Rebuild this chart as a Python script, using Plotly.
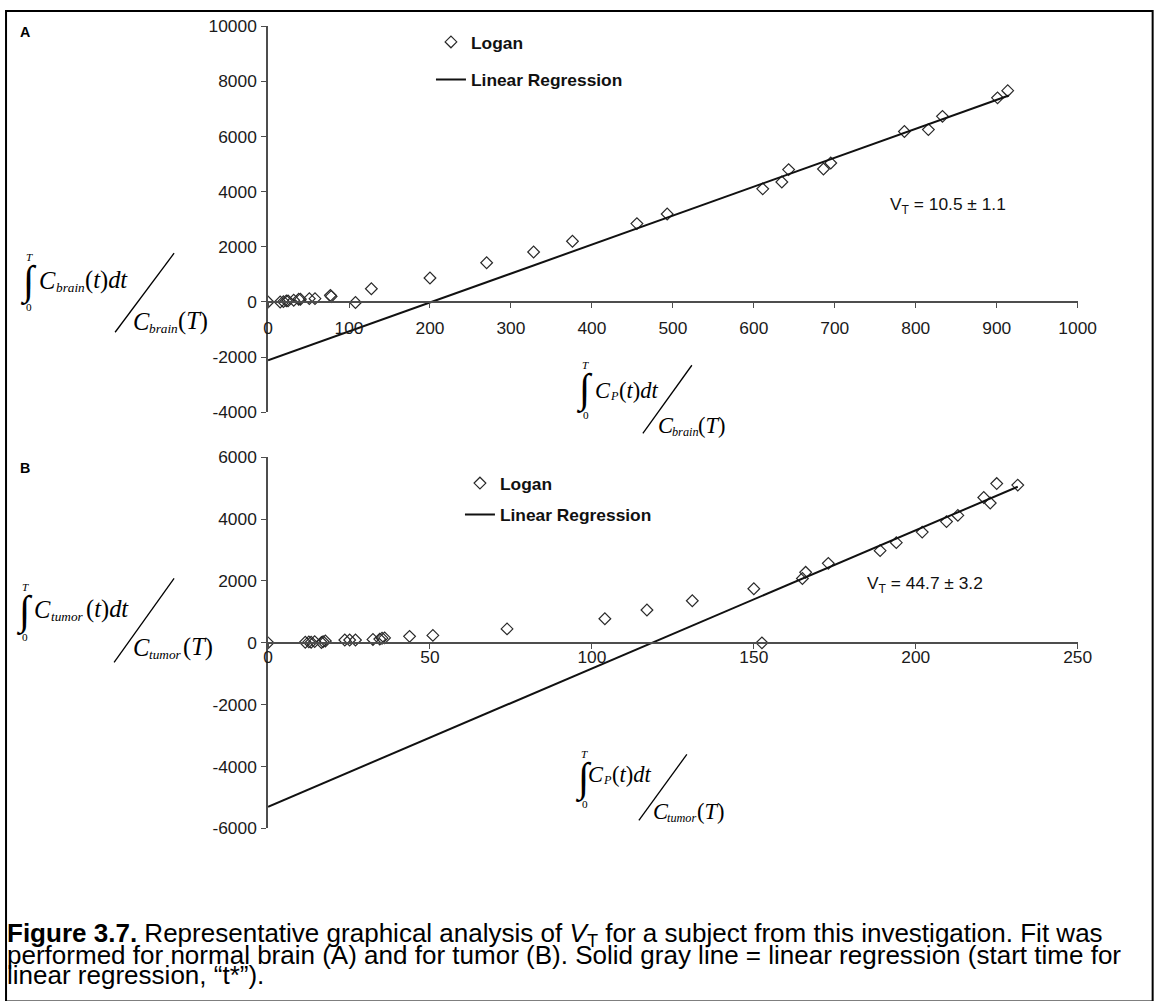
import plotly.graph_objects as go

# target picture size, and the viewer's observed page transform (page = S * (fig + OFF))
W, H = 1158, 1001
S, OFF = 0.98, 8
FW, FH = round(W / S - OFF), round(H / S - OFF)

# ---------------- data ----------------
# Panel A: normal brain (Logan plot)
brain_x = [0, 15, 19, 22.6, 24.7, 31.7, 37.9, 40, 51, 58, 77, 78, 108, 127.6, 200,
           270, 328, 376, 455.6, 493, 611, 634.6, 643, 686, 695, 786, 815.6, 833, 901, 913.6]
brain_y = [0, 0, 10, 40, 40, 60, 100, 100, 120, 120, 240, 200, -20, 480, 870,
           1420, 1810, 2200, 2840, 3190, 4100, 4350, 4800, 4820, 5040, 6180, 6250, 6730, 7400, 7660]
brain_slope, brain_intercept = 10.5, -2120
brain_fit_x = [0, 915]

# Panel B: tumor (Logan plot)
tumor_x = [0, 11.5, 12.6, 13.3, 14.4, 16.5, 17, 17.7, 23.7, 25.2, 27, 32.4, 34.5, 35.2, 36,
           43.7, 50.9, 73.8, 104, 117, 131, 150, 152.5, 165, 166, 173, 189, 194, 202,
           209.5, 213, 221, 223, 225, 231.5]
tumor_y = [0, 20, 30, 20, 40, 10, 40, 60, 90, 90, 90, 110, 120, 150, 160,
           210, 240, 450, 780, 1060, 1360, 1750, 0, 2080, 2280, 2570, 2980, 3240, 3580,
           3920, 4120, 4700, 4520, 5150, 5100]
tumor_slope, tumor_intercept = 44.7, -5300
tumor_fit_x = [0, 231.5]

xA_range, yA_range = [0, 1000], [-4000, 10000]
xB_range, yB_range = [0, 250], [-6000, 6000]
xA_ticks = list(range(0, 1001, 100))
yA_ticks = list(range(-4000, 10001, 2000))
xB_ticks = list(range(0, 251, 50))
yB_ticks = list(range(-6000, 6001, 2000))

# ---------------- helpers ----------------
def px(x):
    return (x / S - OFF) / FW

def py(y):
    return 1 - (y / S - OFF) / FH

def fs(size):
    return round(size / S, 2)

x_dom = [px(271), px(1081)]
yA_dom = [py(410), py(24)]
yB_dom = [py(826), py(455)]

def zero_pos(dom, rng):
    return dom[0] + (0 - rng[0]) / (rng[1] - rng[0]) * (dom[1] - dom[0])

AX = '#4d4d4d'
SERIF = 'Liberation Serif, Times New Roman, serif'
SANS = 'Liberation Sans, Arial, sans-serif'
TICKFONT = dict(family=SANS, size=fs(17), color='#1a1a1a')

fig = go.Figure()

MARK = dict(symbol='diamond-open', size=9, color='#2a2a2a', line=dict(width=1.2, color='#2a2a2a'))

fig.add_trace(go.Scatter(
    x=brain_x, y=brain_y, mode='markers', name='<b>Logan</b>', marker=MARK,
    xaxis='x', yaxis='y', legend='legend', legendgroup='a1'))
fig.add_trace(go.Scatter(
    x=brain_fit_x, y=[brain_intercept + brain_slope * v for v in brain_fit_x],
    mode='lines', name='<b>Linear Regression</b>', line=dict(color='#111111', width=2),
    xaxis='x', yaxis='y', legend='legend', legendgroup='a2'))

fig.add_trace(go.Scatter(
    x=tumor_x, y=tumor_y, mode='markers', name='<b>Logan</b>', marker=MARK,
    xaxis='x2', yaxis='y2', legend='legend2', legendgroup='b1'))
fig.add_trace(go.Scatter(
    x=tumor_fit_x, y=[tumor_intercept + tumor_slope * v for v in tumor_fit_x],
    mode='lines', name='<b>Linear Regression</b>', line=dict(color='#111111', width=2),
    xaxis='x2', yaxis='y2', legend='legend2', legendgroup='b2'))

axis_common = dict(showgrid=False, zeroline=False, showline=True, linecolor=AX, linewidth=1.5,
                   ticks='outside', ticklen=5, tickwidth=1.2, tickcolor=AX, tickfont=TICKFONT)

def labels(vals):
    return [str(v) for v in vals]

fig.update_layout(
    width=FW, height=FH, margin=dict(l=0, r=0, t=0, b=0),
    paper_bgcolor='white', plot_bgcolor='white',
    xaxis=dict(domain=x_dom, range=xA_range, tickvals=xA_ticks, ticktext=labels(xA_ticks),
               anchor='free', position=zero_pos(yA_dom, yA_range), ticklabelstandoff=5, **axis_common),
    yaxis=dict(domain=yA_dom, range=yA_range, tickvals=yA_ticks, ticktext=labels(yA_ticks),
               anchor='x', ticklabelstandoff=1, **axis_common),
    xaxis2=dict(domain=x_dom, range=xB_range, tickvals=xB_ticks, ticktext=labels(xB_ticks),
                anchor='free', position=zero_pos(yB_dom, yB_range), ticklabelstandoff=-6, **axis_common),
    yaxis2=dict(domain=yB_dom, range=yB_range, tickvals=yB_ticks, ticktext=labels(yB_ticks),
                anchor='x2', ticklabelstandoff=1, **axis_common),
    legend=dict(x=px(434), y=py(22), xanchor='left', yanchor='top', bgcolor='rgba(0,0,0,0)',
                font=dict(family=SANS, size=fs(17), color='#111'), traceorder='grouped',
                tracegroupgap=12, itemwidth=30),
    legend2=dict(x=px(463), y=py(463), xanchor='left', yanchor='top', bgcolor='rgba(0,0,0,0)',
                 font=dict(family=SANS, size=fs(17), color='#111'), traceorder='grouped',
                 tracegroupgap=6, itemwidth=30),
    showlegend=True,
)

annotations = []
shapes = []

def txt(x, y, text, size, family=SANS, anchor='left', italic=False, color='#000'):
    if italic:
        text = '<i>' + text + '</i>'
    annotations.append(dict(x=px(x), y=py(y), xref='paper', yref='paper', text=text,
                            showarrow=False, xanchor=anchor, yanchor='middle', borderpad=0,
                            font=dict(family=family, size=fs(size), color=color)))

def slash(x0, y0, x1, y1):
    shapes.append(dict(type='line', xref='paper', yref='paper', x0=px(x0), y0=py(y0),
                       x1=px(x1), y1=py(y1), line=dict(color='#000', width=1.3)))

def integral(cx, cy):
    txt(cx, cy, '\u222b', 40, SERIF, 'center')
    txt(cx + 1, cy - 24, 'T', 11, SERIF, 'center', italic=True)
    txt(cx + 1, cy + 26, '0', 11, SERIF, 'center')

PAREN_t = '(<i>t</i>)<i>dt</i>'
PAREN_T = '(<i>T</i>)'

# Panel A y-title
integral(31, 279)
txt(41, 278, 'C', 24, SERIF, italic=True)
txt(58, 285, 'brain', 13, SERIF, italic=True)
txt(87, 278, PAREN_t, 24, SERIF)
slash(118, 330, 177, 251)
txt(135, 319, 'C', 24, SERIF, italic=True)
txt(151, 326, 'brain', 13, SERIF, italic=True)
txt(180, 319, PAREN_T, 24, SERIF)

# Panel A x-title
integral(588, 387)
txt(597, 388, 'C', 22, SERIF, italic=True)
txt(612, 394, 'P', 12, SERIF, italic=True)
txt(621, 388, PAREN_t, 22, SERIF)
slash(646, 431, 695, 363)
txt(660, 423, 'C', 22, SERIF, italic=True)
txt(674, 430, 'brain', 12, SERIF, italic=True)
txt(700, 423, PAREN_T, 22, SERIF)

# Panel B y-title
integral(27, 609)
txt(36, 607, 'C', 24, SERIF, italic=True)
txt(53, 614, 'tumor', 13, SERIF, italic=True)
txt(88, 607, PAREN_t, 24, SERIF)
slash(117, 660, 177, 576)
txt(135, 645, 'C', 24, SERIF, italic=True)
txt(151, 652, 'tumor', 13, SERIF, italic=True)
txt(185, 645, PAREN_T, 24, SERIF)

# Panel B x-title
integral(587, 776)
txt(590, 772, 'C', 22, SERIF, italic=True)
txt(605, 778, 'P', 12, SERIF, italic=True)
txt(614, 772, PAREN_t, 22, SERIF)
slash(642, 818, 690, 752)
txt(655, 809, 'C', 22, SERIF, italic=True)
txt(669, 816, 'tumor', 12, SERIF, italic=True)
txt(699, 809, PAREN_T, 22, SERIF)

# panel letters
txt(22, 30, '<b>A</b>', 14, SANS)
txt(22, 466, '<b>B</b>', 14, SANS)

# V_T annotations
txt(892, 203, 'V<sub>T</sub> = 10.5 \u00b1 1.1', 17, SANS, color='#111')
txt(869, 582, 'V<sub>T</sub> = 44.7 \u00b1 3.2', 17, SANS, color='#111')

# caption
cap = [
    '<b>Figure 3.7.</b> Representative graphical analysis of <i>V</i><sub>T</sub> for a subject from this investigation. Fit was',
    'performed for normal brain (A) and for tumor (B). Solid gray line = linear regression (start time for',
    'linear regression, \u201ct*\u201d).',
]
for i, line in enumerate(cap):
    txt(9, 932 + 20.5 * i, line, 25.5, SANS)

# frame
shapes.append(dict(type='rect', xref='paper', yref='paper', x0=0.0009, y0=py(999),
                   x1=px(1156), y1=0.999, line=dict(color='#000', width=2)))

fig.update_layout(annotations=annotations, shapes=shapes)
fig.write_html('out.html')
